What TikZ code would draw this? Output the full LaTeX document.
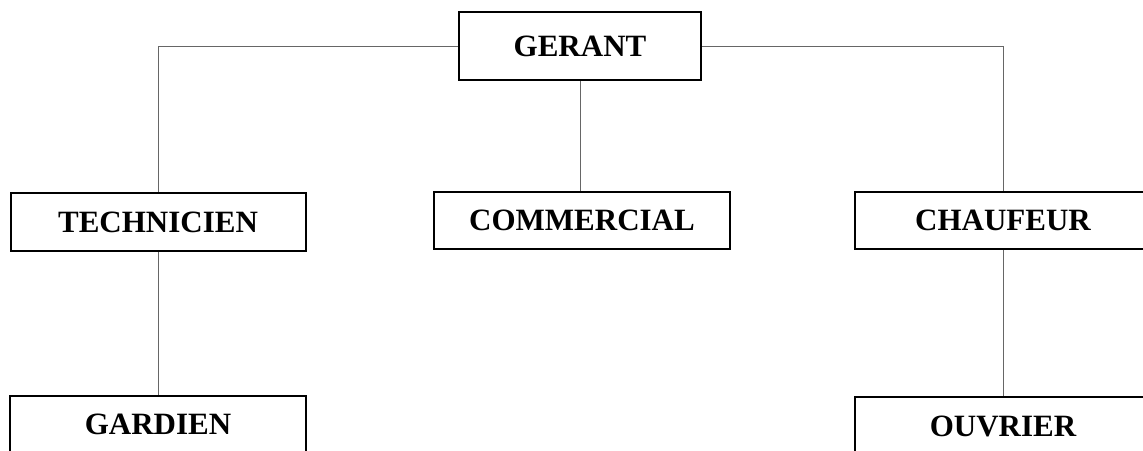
\documentclass[tikz,border=0pt]{standalone}
\usepackage{fontspec}
\setmainfont{Liberation Serif}
\begin{document}
\begin{tikzpicture}[x=1pt,y=-1pt,
  box/.style={draw=black, line width=2pt, fill=white, rectangle, inner sep=0pt,
    font=\fontsize{31}{37}\selectfont\bfseries, text height=20.5pt, text depth=0pt},
  conn/.style={draw=black!60, line width=1pt}]
\useasboundingbox (0,0) rectangle (1143,450);
\clip (0,0) rectangle (1143,450);
\node[box, minimum width=242pt, minimum height=68pt] (gerant) at (580,46) {GERANT};
\node[box, minimum width=295pt, minimum height=58pt] (tech) at (158,222) {TECHNICIEN};
\node[box, minimum width=296pt, minimum height=57pt] (comm) at (582,220.5) {COMMERCIAL};
\node[box, minimum width=296pt, minimum height=57pt] (chauf) at (1003,220.5) {CHAUFEUR};
\node[box, minimum width=296pt, minimum height=58pt] (gard) at (158,424.5) {GARDIEN};
\node[box, minimum width=296pt, minimum height=58pt] (ouv) at (1003,426) {OUVRIER};
\draw[conn] (gerant.west) -| (tech.north);
\draw[conn] (gerant.east) -| (chauf.north);
\draw[conn] (gerant.south) -- (gerant.south |- comm.north);
\draw[conn] (tech.south) -- (gard.north);
\draw[conn] (chauf.south) -- (ouv.north);
\end{tikzpicture}
\end{document}
